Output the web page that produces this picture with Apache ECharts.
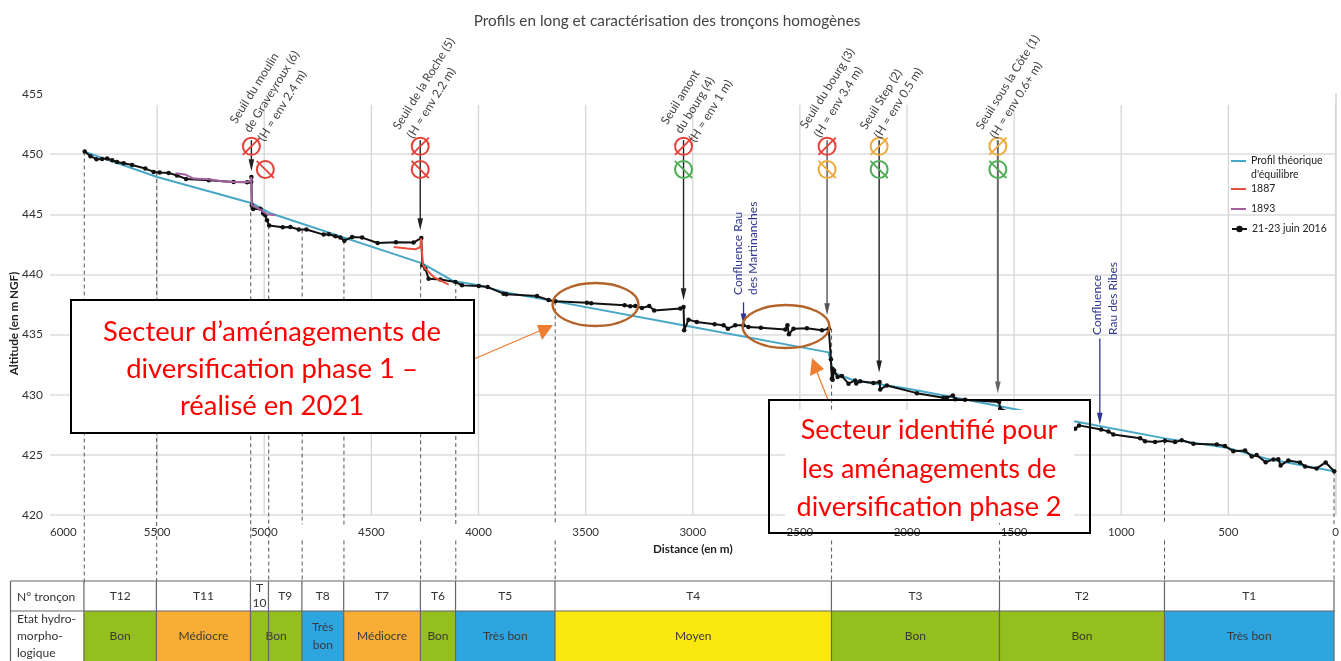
<!DOCTYPE html>
<html>
<head>
<meta charset="utf-8">
<title>Profils en long</title>
<script src="https://cdn.jsdelivr.net/npm/echarts@6/dist/echarts.min.js"></script>
<style>
html, body { margin: 0; padding: 0; background: #fff; }
#main { width: 1341px; height: 661px; }
</style>
</head>
<body>
<div id="main"></div>
<script>
// profils en long : [distance en m, altitude en m NGF]
const profil2016 = [
  [5838,450.22],[5811,449.83],[5783,449.58],[5757,449.60],[5733,449.63],[5710,449.49],[5687,449.35],[5656,449.24],
  [5617,449.10],[5555,448.80],[5516,448.52],[5488,448.47],[5446,448.44],[5407,448.22],[5365,447.94],[5259,447.83],
  [5143,447.69],[5080,447.66],[5061,447.69],[5060,448.10],[5058,445.75],[5052,445.44],[5018,445.47],[5005,445.06],
  [4995,444.92],[4987,444.50],[4977,444.06],[4914,443.92],[4878,443.94],[4839,443.73],[4803,443.73],[4723,443.31],
  [4699,443.34],[4668,443.17],[4645,443.06],[4626,442.81],[4590,443.11],[4543,443.06],[4471,442.61],[4385,442.67],
  [4303,442.65],[4267,443.03],[4262,440.76],[4248,440.48],[4233,439.65],[4178,439.57],[4108,439.37],[4077,439.09],
  [3999,439.04],[3957,438.95],[3883,438.40],[3870,438.35],[3727,438.20],[3673,437.87],[3642,437.76],[3494,437.65],
  [3474,437.60],[3318,437.43],[3292,437.35],[3268,437.37],[3237,437.21],[3203,437.37],[3180,437.01],[3058,437.16],
  [3043,437.29],[3040,435.35],[3020,436.24],[2981,436.04],[2898,435.85],[2856,435.77],[2836,435.49],[2802,435.77],
  [2763,435.77],[2740,435.62],[2682,435.57],[2568,435.43],[2558,435.77],[2551,435.02],[2530,435.49],[2467,435.52],
  [2397,435.35],[2365,435.49],[2355,432.94],[2351,431.33],[2348,432.16],[2347,431.25],[2340,432.02],[2324,431.47],
  [2304,431.55],[2273,430.92],[2242,431.19],[2237,430.94],[2219,431.11],[2157,430.97],[2128,431.05],[2125,430.44],
  [2094,430.77],[1954,430.13],[1830,429.75],[1814,429.75],[1786,429.94],[1775,429.63],[1729,429.58],[1570,429.39],
  [1565,428.84],[1379,427.61],[1215,427.17],[1197,427.45],[1094,427.11],[1060,426.95],[1037,426.70],[912,426.39],
  [889,426.14],[842,426.06],[796,426.17],[749,426.06],[718,426.22],[663,425.92],[554,425.87],[516,425.73],
  [477,425.31],[422,425.37],[391,424.87],[368,424.98],[326,424.39],[290,424.62],[267,424.64],[256,424.12],
  [220,424.54],[166,424.37],[142,424.04],[88,423.87],[46,424.37],[6,423.64]
];
const profilTheorique = [
  [5830,450.15],[5500,448.10],[5057,445.92],[4971,445.08],[4263,440.92],[4117,439.45],[3991,439.09],[3884,438.54],
  [3642,437.76],[3044,435.77],[2366,433.52],[2345,431.86],[2251,431.20],[2001,430.52],[1729,429.61],[1472,428.70],
  [1220,427.80],[796,426.37],[507,425.59],[321,424.67],[7,423.64]
];
const profil1887 = [
  [4396,442.28],[4334,442.15],[4295,442.09],[4271,442.28],[4269,443.00],[4259,440.76],[4248,440.48],[4209,439.78],[4139,439.15]
];
const profil1893 = [
  [5415,448.41],[5368,448.30],[5329,447.97],[5259,447.91],[5189,447.72],[5143,447.69],[5080,447.69],[5063,447.77],
  [5061,448.10],[5058,445.75],[5018,445.39],[4987,445.00],[4948,444.92]
];

const xTicks = [0, 500, 1000, 1500, 2000, 2500, 3000, 3500, 4000, 4500, 5000, 5500];

// tronçons
const tronconNames = ['T12', 'T11', 'T\n10', 'T9', 'T8', 'T7', 'T6', 'T5', 'T4', 'T3', 'T2', 'T1'];
const tronconBounds = [5840, 5502, 5063, 4979, 4823, 4628, 4270, 4106, 3642, 2352, 1568, 798, 7];
const boundTops = [450.22, 448.52, 445.75, 444.06, 443.73, 442.81, 440.76, 439.37, 437.76, 435.49, 429.39, 426.17, 423.64];
const etatLabels = ['Bon', 'Médiocre', 'Bon', 'Très\nbon', 'Médiocre', 'Bon', 'Très bon', 'Moyen', 'Bon', 'Bon', 'Très bon'];
const etatBounds = [5840, 5502, 5063, 4823, 4628, 4270, 4106, 3642, 2352, 1568, 798, 7];
const etatClasses = ['bon', 'mediocre', 'bon', 'tresbon', 'mediocre', 'bon', 'tresbon', 'moyen', 'bon', 'bon', 'tresbon'];

// seuils
const seuilLabels = [
  'Seuil du moulin\nde Graveyroux (6)\n(H = env 2.4 m)',
  'Seuil de la Roche (5)\n(H = env 2.2 m)',
  'Seuil amont\ndu bourg (4)\n(H = env 1 m)',
  'Seuil du bourg (3)\n(H = env 3.4 m)',
  'Seuil Step (2)\n(H = env 0.5 m)',
  'Seuil sous la Côte (1)\n(H = env 0.6+ m)'
];
const seuilDist = [5060, 4272, 3043, 2373, 2130, 1576];
const seuilMark2Dist = [4995, 4272, 3043, 2373, 2130, 1576];
const seuilTip = [448.58, 443.67, 437.85, 436.60, 431.85, 430.10];
const seuilEtat1 = ['red', 'red', 'red', 'red', 'orange', 'orange'];
const seuilEtat2 = ['red', 'red', 'green', 'orange', 'green', 'green'];

const confluenceDist = [2763, 1100];
const confluenceFrom = [437.68, 434.68];
const confluenceTip = [435.75, 427.50];

const chart = echarts.init(document.getElementById('main'));

const FONT = 'Lato';
const markColors = { red: '#e5423a', orange: '#eeaa3c', green: '#4fae55' };
const etatColors = { bon: '#94bf1c', mediocre: '#f8ae34', tresbon: '#2fa5e0', moyen: '#fbe80f' };

function arrow(api, d, from, tip, color, w) {
  const a = api.coord([d, from]);
  const b = api.coord([d, tip]);
  return [
    { type: 'line', shape: { x1: a[0], y1: a[1], x2: b[0], y2: b[1] - 6 }, style: { stroke: color, lineWidth: w } },
    { type: 'polygon', shape: { points: [[b[0], b[1]], [b[0] - 2.8, b[1] - 12], [b[0] + 2.8, b[1] - 12]] }, style: { fill: color } }
  ];
}

function noEntry(c, color, up) {
  const r = 8.5, k = 11.5;
  const dy = up ? -1 : 1;
  return [
    { type: 'circle', shape: { cx: c[0], cy: c[1], r: r }, style: { fill: 'none', stroke: color, lineWidth: 2 } },
    { type: 'line', shape: { x1: c[0] - k * 0.75, y1: c[1] - dy * k * 0.75, x2: c[0] + k * 0.75, y2: c[1] + dy * k * 0.75 }, style: { stroke: color, lineWidth: 1.8 } }
  ];
}

const option = {
  animation: false,
  backgroundColor: '#fff',
  textStyle: { fontFamily: FONT },
  title: {
    text: 'Profils en long et caractérisation des tronçons homogènes',
    left: 662, top: 9, textAlign: 'center',
    textStyle: { fontFamily: FONT, fontSize: 15.3, fontWeight: 'normal', color: '#444' }
  },
  legend: [
    { data: ["Profil théorique d'équilibre"], formatter: () => " \nProfil théorique\nd'équilibre", top: 140, icon: 'rect', itemHeight: 2 },
    { data: ['1887'], top: 182, icon: 'rect', itemHeight: 2 },
    { data: ['1893'], top: 202, icon: 'rect', itemHeight: 2 },
    { data: ['21-23 juin 2016'], top: 222, itemHeight: 8 }
  ].map(l => Object.assign(l, {
    left: 1231, orient: 'vertical', padding: 0, itemWidth: 15, selectedMode: false,
    textStyle: { fontFamily: FONT, fontSize: 10.5, color: '#222', lineHeight: 14 }
  })),
  grid: [
    { left: 50, width: 1285.5, top: 94, height: 421, outerBoundsMode: 'none' },
    { left: 10, width: 1325.5, top: 581, height: 80, outerBoundsMode: 'none' }
  ],
  xAxis: [
    {
      type: 'value', inverse: true, min: 0, max: 6000, interval: 500,
      name: 'Distance (en m)', nameLocation: 'middle', nameGap: 24,
      nameTextStyle: { fontFamily: FONT, fontSize: 11.7, fontWeight: 'bold', color: '#222' },
      axisLine: { show: false }, axisTick: { show: false }, splitLine: { show: false },
      axisLabel: { margin: 11, fontFamily: FONT, fontSize: 11.5, color: '#333', alignMaxLabel: 'left', formatter: v => String(v) }
    },
    { gridIndex: 1, type: 'value', inverse: true, min: 0, max: 6185, show: false }
  ],
  yAxis: [
    {
      type: 'value', min: 420, max: 455, interval: 5,
      name: 'Altitude (en m NGF)', nameLocation: 'middle', nameGap: 30, nameMoveOverlap: false,
      nameTextStyle: { fontFamily: FONT, fontSize: 11.7, fontWeight: 'bold', color: '#222', padding: [0, 38, 0, 0] },
      axisLine: { show: true, lineStyle: { color: '#d4d4d4', width: 1.5 } }, axisTick: { show: false },
      axisLabel: { margin: 7, fontFamily: FONT, fontSize: 12, color: '#333' },
      splitLine: { show: true, showMaxLine: false, lineStyle: { color: '#dcdcdc', width: 1.5 } }
    },
    { gridIndex: 1, type: 'value', inverse: true, min: 0, max: 80, show: false }
  ],
  series: [
    {
      // grille verticale, plus courte que l'axe des altitudes
      type: 'custom', silent: true, z: 1,
      data: xTicks.map(d => [d]),
      encode: { x: 0 },
      renderItem(params, api) {
        const a = api.coord([api.value(0), 454.1]);
        const b = api.coord([api.value(0), 420]);
        return { type: 'line', shape: { x1: a[0], y1: a[1], x2: b[0], y2: b[1] }, style: { stroke: '#d6d6d6', lineWidth: 1.3 } };
      }
    },
    {
      // pointillés des limites de tronçons, descendent jusqu'au tableau
      type: 'custom', silent: true, z: 2,
      data: tronconBounds.map((d, i) => [d, boundTops[i]]),
      encode: { x: 0, y: 1 },
      renderItem(params, api) {
        const d = api.value(0);
        const a = api.coord([d, api.value(1)]);
        const b = api.coord([d, 414.47]);
        const style = { stroke: '#555', lineWidth: 1, lineDash: [4, 3] };
        if (d > 4900) return { type: 'line', shape: { x1: a[0], y1: a[1], x2: b[0], y2: b[1] }, style };
        // les étiquettes de l'axe coupent les pointillés
        const g1 = api.coord([d, 419.21]);
        const g2 = api.coord([d, 417.88]);
        return {
          type: 'group', children: [
            { type: 'line', shape: { x1: a[0], y1: a[1], x2: g1[0], y2: g1[1] }, style },
            { type: 'line', shape: { x1: g2[0], y1: g2[1], x2: b[0], y2: b[1] }, style }
          ]
        };
      }
    },
    {
      name: "Profil théorique d'équilibre", type: 'line', data: profilTheorique, z: 3,
      showSymbol: false, symbol: 'none', lineStyle: { color: '#46a7c6', width: 2 }, itemStyle: { color: '#46a7c6' }
    },
    {
      name: '21-23 juin 2016', type: 'line', data: profil2016, z: 4,
      symbol: 'circle', symbolSize: 4.5, lineStyle: { color: '#111', width: 2 }, itemStyle: { color: '#111' }
    },
    {
      name: '1887', type: 'line', data: profil1887, z: 5,
      showSymbol: false, symbol: 'none', lineStyle: { color: '#e6503c', width: 2 }, itemStyle: { color: '#e6503c' }
    },
    {
      name: '1893', type: 'line', data: profil1893, z: 5,
      showSymbol: false, symbol: 'none', lineStyle: { color: '#a4619f', width: 2 }, itemStyle: { color: '#a4619f' }
    },
    {
      // seuils : flèche et deux pictogrammes
      type: 'custom', silent: true, z: 6,
      data: seuilDist.map((d, i) => [d, seuilTip[i]]),
      encode: { x: 0, y: 1 },
      renderItem(params, api) {
        const i = params.dataIndex;
        const stroke = i === 5 ? '#666' : (i === 3 ? '#555' : '#222');
        const children = arrow(api, api.value(0), 451.16, api.value(1), stroke, i === 5 ? 2 : 1.4);
        children.push(...noEntry(api.coord([api.value(0), 450.65]), markColors[seuilEtat1[i]], true));
        children.push(...noEntry(api.coord([seuilMark2Dist[i], 448.73]), markColors[seuilEtat2[i]], false));
        return { type: 'group', children };
      }
    },
    {
      // arrivées des affluents
      type: 'custom', silent: true, z: 6,
      data: confluenceDist.map((d, i) => [d, confluenceFrom[i], confluenceTip[i]]),
      encode: { x: 0, y: 1 },
      renderItem(params, api) {
        return { type: 'group', children: arrow(api, api.value(0), api.value(1), api.value(2), '#2f3590', 1.3) };
      }
    },
    {
      // tableau : cellules de l'état
      type: 'custom', silent: true, xAxisIndex: 1, yAxisIndex: 1, z: 2,
      data: etatLabels.map((l, i) => [etatBounds[i], etatBounds[i + 1]]),
      encode: { x: [0, 1] },
      renderItem(params, api) {
        const a = api.coord([api.value(0), 30]);
        const b = api.coord([api.value(1), 80]);
        return {
          type: 'rect', shape: { x: a[0], y: a[1], width: b[0] - a[0], height: b[1] - a[1] },
          style: { fill: etatColors[etatClasses[params.dataIndex]] },
          textContent: {
            style: { text: etatLabels[params.dataIndex], fill: '#3a3a3a', font: '12px ' + FONT, lineHeight: 18, align: 'center' }
          },
          textConfig: { position: 'inside' }
        };
      }
    },
    {
      // tableau : numéros de tronçons
      type: 'custom', silent: true, xAxisIndex: 1, yAxisIndex: 1, z: 3,
      data: tronconNames.map((l, i) => [tronconBounds[i], tronconBounds[i + 1]]),
      encode: { x: [0, 1] },
      renderItem(params, api) {
        const a = api.coord([api.value(0), 0]);
        const b = api.coord([api.value(1), 30]);
        return {
          type: 'text', x: (a[0] + b[0]) / 2, y: (a[1] + b[1]) / 2,
          style: { text: tronconNames[params.dataIndex], fill: '#333', font: '12px ' + FONT, lineHeight: 15, align: 'center', verticalAlign: 'middle' }
        };
      }
    },
    {
      // tableau : traits verticaux
      type: 'custom', silent: true, xAxisIndex: 1, yAxisIndex: 1, z: 4,
      data: tronconBounds.map(d => [d]),
      encode: { x: 0 },
      renderItem(params, api) {
        const a = api.coord([api.value(0), 0]);
        const b = api.coord([api.value(0), 80]);
        return { type: 'line', shape: { x1: a[0], y1: a[1], x2: b[0], y2: b[1] }, style: { stroke: '#666', lineWidth: 1.2 } };
      }
    }
  ],
  graphic: { elements: buildOverlay() }
};

function rotatedText(text, x, y, deg, color, size, lh) {
  return {
    type: 'text', x, y, rotation: deg * Math.PI / 180, z: 60, silent: true,
    style: { text, fill: color, font: size + 'px ' + FONT, lineHeight: lh, align: 'left', verticalAlign: 'top' }
  };
}

function buildOverlay() {
  const els = [];
  // cadre du tableau
  const frame = { stroke: '#666', lineWidth: 1.2 };
  els.push({ type: 'line', z: 50, silent: true, shape: { x1: 10.5, y1: 581, x2: 1335, y2: 581 }, style: frame });
  els.push({ type: 'line', z: 50, silent: true, shape: { x1: 10.5, y1: 611, x2: 1335, y2: 611 }, style: frame });
  els.push({ type: 'line', z: 50, silent: true, shape: { x1: 10.5, y1: 581, x2: 10.5, y2: 661 }, style: frame });
  els.push({
    type: 'text', z: 50, silent: true, x: 17, y: 597,
    style: { text: 'N° tronçon', fill: '#333', font: '12px ' + FONT, verticalAlign: 'middle' }
  });
  els.push({
    type: 'text', z: 50, silent: true, x: 17, y: 636,
    style: { text: 'Etat hydro-\nmorpho-\nlogique', fill: '#333', font: '12px ' + FONT, lineHeight: 17, verticalAlign: 'middle' }
  });

  // noms des seuils
  const pos = [[226, 118, 15], [389, 124, 15], [657, 119, 15], [796, 123, 15], [856, 124, 15], [972, 124, 15]];
  seuilLabels.forEach((t, i) => els.push(rotatedText(t, pos[i][0], pos[i][1], 58, '#444', 12, 16.5)));

  // affluents
  els.push(rotatedText('Confluence Rau\ndes Martinanches', 731, 295, 90, '#2f3590', 12, 15));
  els.push(rotatedText('Confluence\nRau des Ribes', 1089, 335, 90, '#2f3590', 12, 16));

  // ellipses des secteurs
  const brown = { fill: 'none', stroke: '#b4632a', lineWidth: 2.4 };
  els.push({ type: 'ellipse', z: 55, silent: true, shape: { cx: 595.5, cy: 304.5, rx: 43, ry: 21.5 }, style: brown });
  els.push({ type: 'ellipse', z: 55, silent: true, shape: { cx: 786, cy: 326.5, rx: 43.5, ry: 21.5 }, style: brown });

  // flèches orange
  const orange = '#ed7d31';
  els.push({ type: 'line', z: 70, silent: true, shape: { x1: 474, y1: 359, x2: 544, y2: 329 }, style: { stroke: orange, lineWidth: 1.3 } });
  els.push({ type: 'polygon', z: 70, silent: true, shape: { points: [[553, 325], [537, 325], [542, 340]] }, style: { fill: orange } });
  els.push({ type: 'line', z: 70, silent: true, shape: { x1: 828, y1: 400, x2: 817, y2: 372 }, style: { stroke: orange, lineWidth: 1.3 } });
  els.push({ type: 'polygon', z: 70, silent: true, shape: { points: [[812, 358], [810, 376], [824, 369]] }, style: { fill: orange } });

  // encadré phase 1
  els.push({ type: 'rect', z: 80, silent: true, shape: { x: 71, y: 300, width: 403, height: 133 }, style: { fill: '#fff', stroke: '#000', lineWidth: 2 } });
  els.push({
    type: 'text', z: 81, silent: true, x: 272, y: 369,
    style: { text: 'Secteur d’aménagements de\ndiversification phase 1 –\nréalisé en 2021', fill: '#f00', font: '27.4px ' + FONT, lineHeight: 37, align: 'center', verticalAlign: 'middle' }
  });

  // encadré phase 2 : cadre sans fond, blanc seulement derrière le texte
  els.push({ type: 'rect', z: 80, silent: true, shape: { x: 785, y: 410, width: 289, height: 113 }, style: { fill: '#fff' } });
  els.push({ type: 'rect', z: 81, silent: true, shape: { x: 769, y: 400, width: 321, height: 133 }, style: { fill: 'none', stroke: '#000', lineWidth: 2 } });
  els.push({
    type: 'text', z: 82, silent: true, x: 929, y: 469,
    style: { text: 'Secteur identifié pour\nles aménagements de\ndiversification phase 2', fill: '#f00', font: '27px ' + FONT, lineHeight: 38.5, align: 'center', verticalAlign: 'middle' }
  });
  return els;
}

chart.setOption(option);
window.addEventListener('resize', () => chart.resize());
</script>
</body>
</html>
